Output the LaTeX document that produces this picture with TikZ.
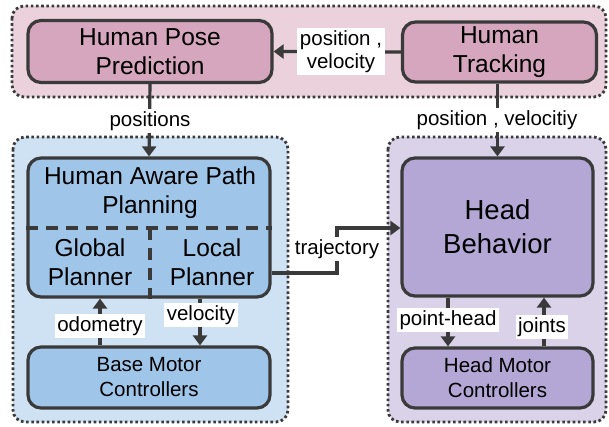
\documentclass[tikz,border=0pt]{standalone}
\usepackage{fontspec}
\setmainfont{Liberation Sans}
\usetikzlibrary{arrows.meta}
\definecolor{edge}{HTML}{3A3A3A}
\definecolor{pinkbg}{HTML}{EAD1DC}
\definecolor{pinkfg}{HTML}{D5A6BD}
\definecolor{bluebg}{HTML}{CFE2F3}
\definecolor{bluefg}{HTML}{9FC5E8}
\definecolor{purpbg}{HTML}{D9D2E9}
\definecolor{purpfg}{HTML}{B4A7D6}
\tikzset{
  grp/.style={draw=edge, line width=2.8pt, dash pattern=on 2.6pt off 2.6pt, rounded corners=12pt},
  box/.style={draw=edge, line width=3.2pt, rounded corners=13pt, inner sep=0pt, align=center},
  conn/.style={draw=edge, line width=3.2pt},
  arr/.style={conn, -{Triangle[width=14pt,length=10pt]}},
  lbl/.style={fill=white, inner sep=2.5pt, font=\fontsize{20.5}{23}\selectfont, align=center},
  big/.style={font=\fontsize{24.5}{29}\selectfont},
  mid/.style={font=\fontsize{20.5}{25}\selectfont},
}
\begin{document}
\begin{tikzpicture}[x=1pt,y=-1pt]
\useasboundingbox[fill=white] (0,0) rectangle (609,426);
% groups
\draw[grp, fill=pinkbg] (12,6) rectangle (606,97);
\draw[grp, fill=bluebg] (13,137) rectangle (288,422);
\draw[grp, fill=purpbg] (388,137) rectangle (606,422);
% nodes
\node[box, big, fill=pinkfg, minimum width=244pt, minimum height=62pt] (hpp) at (150,51.5) {Human Pose\\Prediction};
\node[box, big, fill=pinkfg, minimum width=194pt, minimum height=60pt] (ht) at (499.5,52) {Human\\Tracking};
\node[box, fill=bluefg, minimum width=242pt, minimum height=139pt] (plan) at (149,227.5) {};
\node[box, mid, fill=bluefg, minimum width=242pt, minimum height=61pt] (bmc) at (149,377.5) {Base Motor\\Controllers};
\node[box, fill=purpfg, minimum width=191pt, minimum height=138pt, font=\fontsize{27.5}{34}\selectfont] (hb) at (497.5,227) {Head\\Behavior};
\node[box, mid, fill=purpfg, minimum width=191pt, minimum height=60pt] (hmc) at (497.5,378) {Head Motor\\Controllers};
% planning internals
\node[big, align=center] (happ) at (150,193) {Human Aware Path\\Planning};
\node[big, align=center] (gp) at (90,262) {Global\\Planner};
\node[big, align=center] (lp) at (212,262) {Local\\Planner};
\coordinate (dl) at (plan.west |- 0,228);
\coordinate (dr) at (plan.east |- 0,228);
\coordinate (dt) at (150,228);
\coordinate (db) at (plan.south -| dt);
\draw[conn, dash pattern=on 12pt off 8pt] (dl) -- (dr);
\draw[conn, dash pattern=on 12pt off 8pt] (dt) -- (db);
% connectors
\draw[arr] (ht.west) -- (hpp.east);
\draw[arr] (hpp.south) -- (plan.north);
\coordinate (htb) at (ht.south -| hb.north);
\draw[arr] (htb) -- (hb.north);
\coordinate (t1) at (plan.east |- 0,273);
\coordinate (t2) at (337,273);
\coordinate (t3) at (337,228);
\coordinate (t4) at (hb.west |- t3);
\draw[arr] (t1) -- (t2) -- (t3) -- (t4);
\coordinate (odo) at (bmc.north -| 100,0);
\coordinate (odoT) at (plan.south -| odo);
\draw[arr] (odo) -- (odoT);
\coordinate (vel) at (plan.south -| 200,0);
\coordinate (velB) at (bmc.north -| vel);
\draw[arr] (vel) -- (velB);
\coordinate (ph) at (hb.south -| 448,0);
\coordinate (phB) at (hmc.north -| ph);
\draw[arr] (ph) -- (phB);
\coordinate (jt) at (hmc.north -| 544,0);
\coordinate (jtT) at (hb.south -| jt);
\draw[arr] (jt) -- (jtT);
% labels
\node[lbl] (lpv) at (341,51.5) {position ,\\velocity};
\node[lbl] (lpos) at (150,121) {positions};
\node[lbl] (lpv2) at (497,120) {position , velocitiy};
\node[lbl] (ltr) at (337,249) {trajectory};
\node[lbl] (lodo) at (100,326) {odometry};
\node[lbl] (lvel) at (201,315) {velocity};
\node[lbl] (lph) at (448,320) {point-head};
\node[lbl] (ljt) at (542,327) {joints};
\end{tikzpicture}
\end{document}
